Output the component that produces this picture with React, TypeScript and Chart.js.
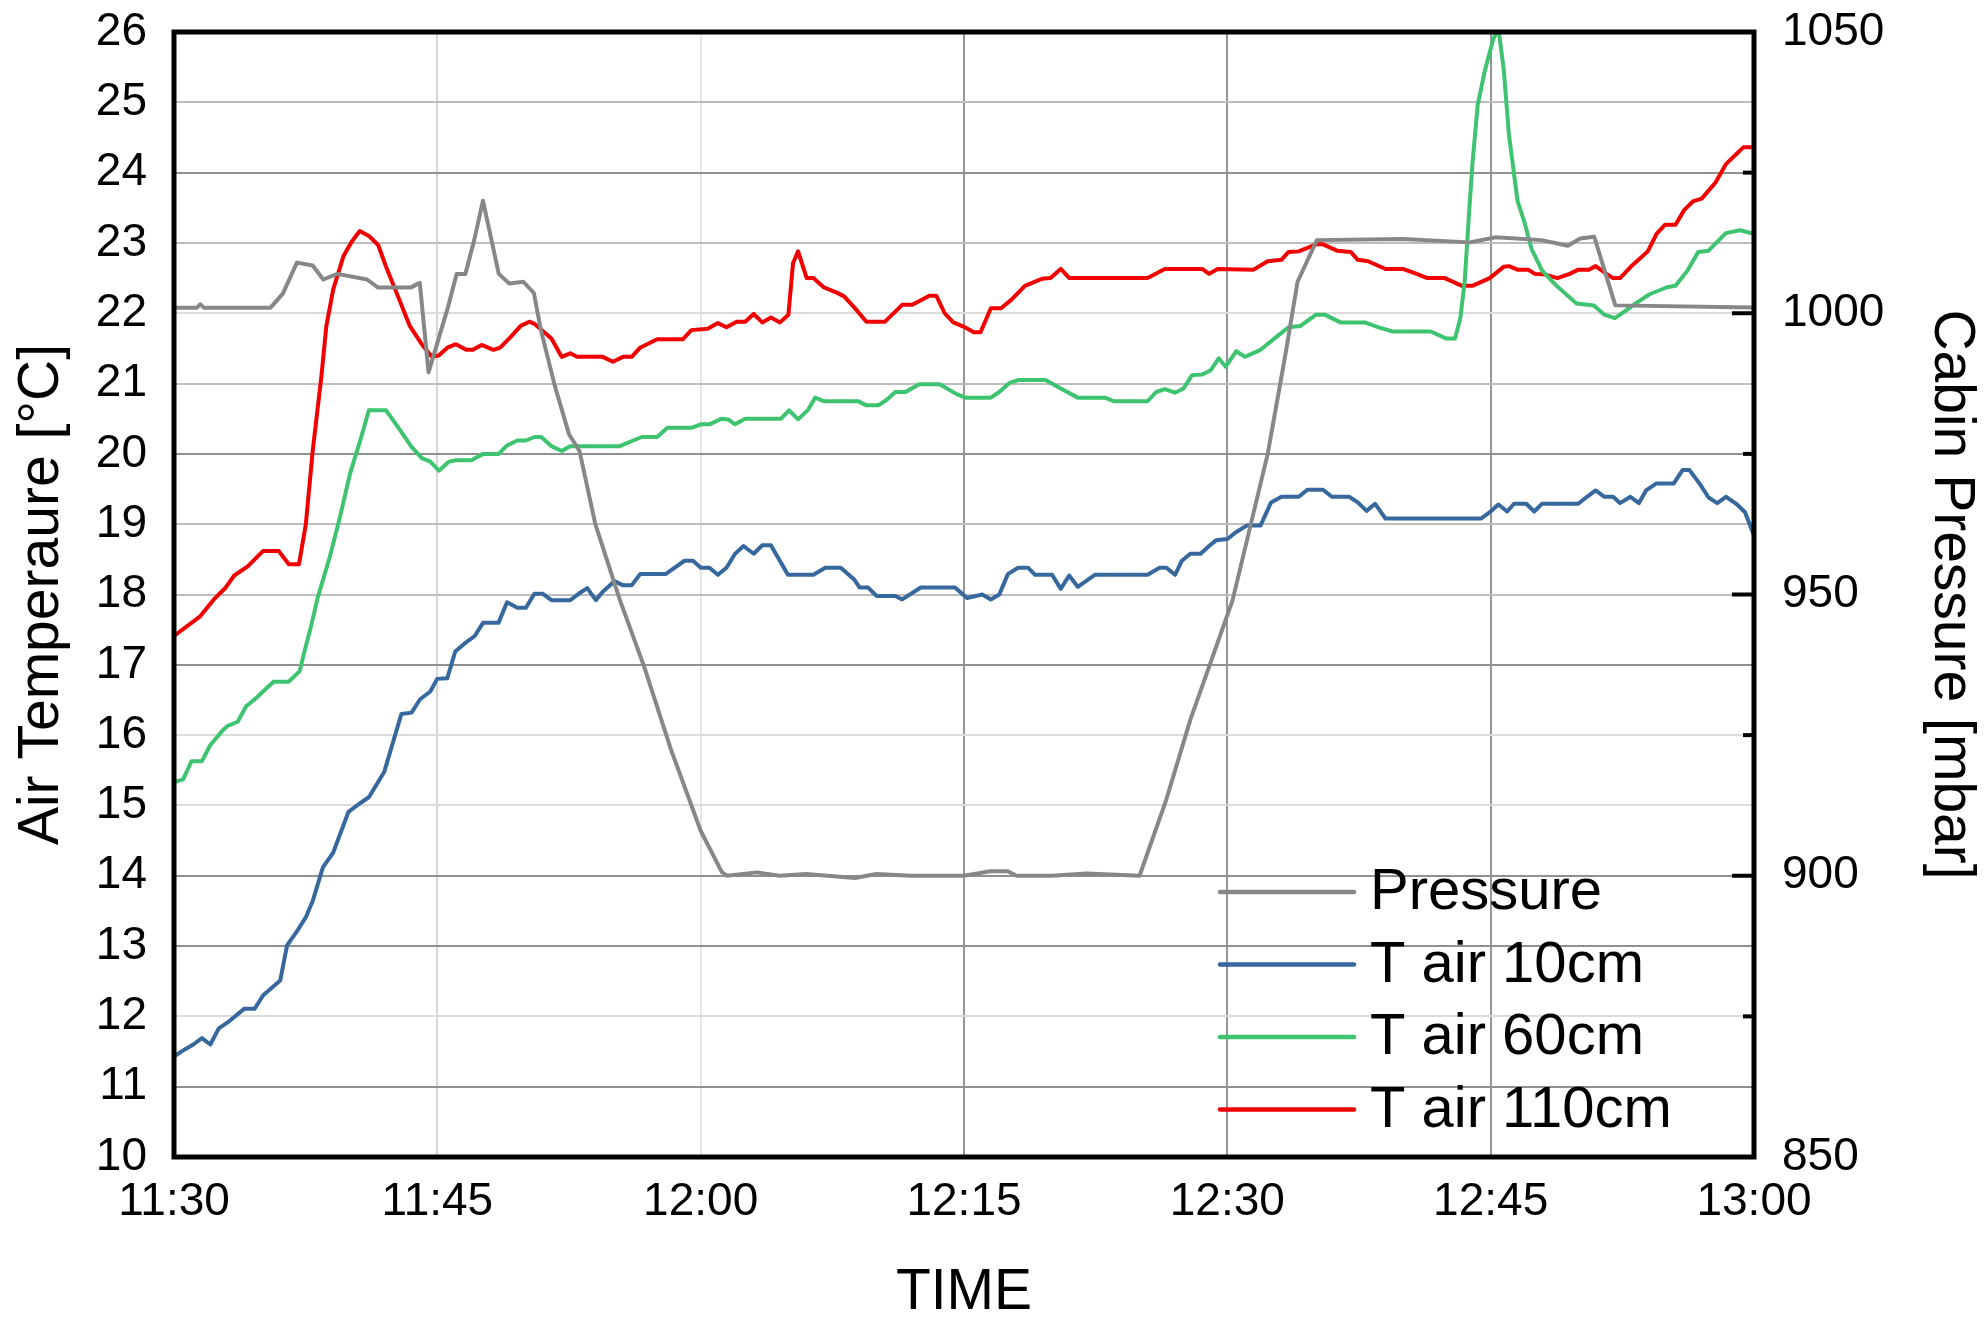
import React, { useEffect, useRef } from 'react';
import { Chart, registerables } from 'chart.js';

Chart.register(...registerables);

// ---- axis labels ----
const xTickLabels = ['11:30', '11:45', '12:00', '12:15', '12:30', '12:45', '13:00'];
const xTickStepMin = 15;
const legendLabels = ['Pressure', 'T air 10cm', 'T air 60cm', 'T air 110cm'];

// ---- Pressure [mbar] vs minutes after 11:30 ----
const pressureTime = [0, 1.3, 1.5, 1.7, 5.5, 6.2, 7.0, 7.9, 8.5, 9.3, 11.0, 11.6, 13.5, 14.0, 14.5, 15.6, 16.1, 16.6, 17.1, 17.6, 18.5, 19.1, 19.9, 20.5, 20.9, 21.7, 22.5, 23.1, 24.0, 25.4, 26.8, 28.3, 30.0, 31.2, 31.5, 33.2, 34.5, 36, 38.8, 40, 42, 45, 46.5, 47.5, 48, 50, 52, 55.0, 56.5, 57.9, 59.0, 60.3, 62.3, 63.3, 64.0, 65.1, 70, 73.8, 75.3, 77.9, 79.4, 80.1, 80.9, 82.1, 90];
const pressureMbar = [1001, 1001, 1001.6, 1001, 1001, 1003.5, 1009, 1008.5, 1006, 1007, 1006, 1004.6, 1004.6, 1005.4, 989.5, 1001, 1007, 1007, 1013, 1020, 1007, 1005.3, 1005.6, 1003.6, 997, 987, 978.5, 975.5, 962.5, 949, 937, 922.5, 908, 900.7, 900, 900.6, 900, 900.3, 899.6, 900.3, 900, 900, 900.8, 900.8, 900, 900, 900.4, 900, 913.3, 927.8, 937.5, 949, 975, 992.5, 1005.6, 1013, 1013.2, 1012.6, 1013.5, 1013, 1012, 1013.3, 1013.6, 1001.4, 1001];

// ---- T air 10cm [°C] ----
const t10Time = [0, 0.61, 1.1, 1.59, 2.07, 2.55, 3.14, 4.01, 4.6, 5.08, 6.05, 6.44, 7.03, 7.51, 7.9, 8.48, 9.07, 9.94, 10.43, 11.11, 11.98, 12.95, 13.53, 14.02, 14.6, 14.99, 15.57, 16.02, 16.54, 17.13, 17.61, 18.49, 18.97, 19.56, 20.04, 20.53, 21.01, 21.5, 22.57, 23.05, 23.54, 24.03, 24.42, 25.09, 25.58, 26.07, 26.55, 28.0, 29.08, 29.56, 30.01, 30.5, 30.98, 31.47, 31.96, 32.44, 33.02, 33.51, 34.0, 34.97, 36.42, 37.1, 37.98, 38.76, 39.05, 39.53, 40.02, 41.09, 41.48, 42.54, 44.49, 45.17, 46.04, 46.53, 47.01, 47.5, 48.08, 48.66, 49.05, 50.02, 50.51, 50.99, 51.48, 52.45, 55.46, 56.14, 56.53, 57.02, 57.41, 57.89, 58.48, 58.96, 59.35, 60.01, 60.51, 61.1, 61.89, 62.49, 63.08, 64.07, 64.56, 65.45, 65.95, 66.94, 67.43, 67.93, 68.42, 69.01, 74.45, 74.95, 75.44, 75.94, 76.33, 77.03, 77.48, 77.92, 79.99, 80.49, 80.98, 81.48, 81.97, 82.37, 82.96, 83.45, 83.85, 84.44, 85.43, 85.93, 86.32, 86.92, 87.41, 87.91, 88.4, 88.99, 89.49, 90];
const t10Val = [11.43, 11.53, 11.6, 11.69, 11.6, 11.83, 11.93, 12.11, 12.11, 12.3, 12.51, 13.01, 13.22, 13.41, 13.64, 14.12, 14.33, 14.91, 15.0, 15.12, 15.48, 16.3, 16.32, 16.51, 16.62, 16.8, 16.81, 17.19, 17.3, 17.41, 17.6, 17.6, 17.89, 17.81, 17.81, 18.01, 18.01, 17.92, 17.92, 18.01, 18.09, 17.92, 18.04, 18.19, 18.13, 18.13, 18.29, 18.29, 18.48, 18.48, 18.38, 18.38, 18.28, 18.38, 18.58, 18.69, 18.58, 18.7, 18.7, 18.28, 18.28, 18.38, 18.38, 18.21, 18.1, 18.1, 17.98, 17.98, 17.93, 18.1, 18.1, 17.95, 18.0, 17.93, 18.0, 18.29, 18.38, 18.38, 18.28, 18.28, 18.08, 18.27, 18.11, 18.28, 18.28, 18.38, 18.38, 18.28, 18.48, 18.58, 18.58, 18.69, 18.77, 18.79, 18.89, 18.98, 18.98, 19.31, 19.39, 19.39, 19.49, 19.49, 19.39, 19.39, 19.31, 19.19, 19.29, 19.08, 19.08, 19.17, 19.28, 19.18, 19.29, 19.29, 19.18, 19.29, 19.29, 19.39, 19.48, 19.39, 19.39, 19.3, 19.39, 19.3, 19.48, 19.58, 19.58, 19.77, 19.77, 19.57, 19.38, 19.3, 19.39, 19.29, 19.17, 18.84];

// ---- T air 60cm [°C] ----
const t60Time = [0, 0.52, 1.0, 1.59, 2.07, 2.75, 3.04, 3.63, 4.11, 4.6, 5.67, 6.54, 7.16, 7.41, 7.8, 8.19, 8.87, 9.45, 10.04, 10.62, 11.1, 12.08, 12.76, 13.53, 14.12, 14.6, 15.09, 15.67, 16.06, 16.93, 17.61, 18.49, 18.97, 19.56, 20.04, 20.53, 20.92, 21.5, 22.08, 22.57, 25.39, 26.16, 26.65, 27.52, 28.11, 29.47, 30.01, 30.5, 31.18, 31.57, 31.96, 32.54, 34.58, 35.03, 35.55, 36.13, 36.52, 37.01, 38.95, 39.44, 40.12, 40.6, 41.09, 41.67, 42.45, 43.61, 44.58, 45.07, 46.53, 47.01, 47.6, 48.08, 49.64, 50.51, 51.48, 53.04, 53.52, 55.46, 55.95, 56.44, 57.02, 57.5, 57.99, 58.57, 59.06, 59.51, 59.91, 60.51, 61.0, 61.89, 62.78, 63.48, 64.17, 65.06, 65.55, 66.44, 67.83, 68.62, 69.41, 71.59, 72.48, 72.97, 73.27, 73.52, 73.76, 73.96, 74.26, 74.65, 75.15, 75.44, 75.74, 76.04, 76.53, 76.93, 77.32, 77.92, 78.71, 79.89, 80.88, 81.48, 82.07, 82.66, 83.26, 84.05, 85.04, 85.53, 86.22, 86.82, 87.41, 88.4, 89.2, 90];
const t60Val = [15.33, 15.37, 15.63, 15.63, 15.86, 16.06, 16.13, 16.19, 16.41, 16.51, 16.76, 16.76, 16.91, 17.17, 17.54, 17.96, 18.53, 19.1, 19.73, 20.2, 20.62, 20.62, 20.38, 20.1, 19.94, 19.89, 19.76, 19.89, 19.91, 19.91, 20.0, 20.0, 20.12, 20.19, 20.19, 20.24, 20.24, 20.11, 20.04, 20.11, 20.11, 20.19, 20.24, 20.24, 20.37, 20.37, 20.42, 20.42, 20.5, 20.49, 20.42, 20.5, 20.5, 20.62, 20.49, 20.63, 20.8, 20.75, 20.75, 20.69, 20.69, 20.77, 20.88, 20.88, 20.99, 20.99, 20.85, 20.8, 20.8, 20.88, 21.01, 21.05, 21.05, 20.93, 20.8, 20.8, 20.75, 20.75, 20.88, 20.92, 20.87, 20.93, 21.12, 21.13, 21.19, 21.36, 21.24, 21.46, 21.38, 21.48, 21.66, 21.8, 21.82, 21.98, 21.98, 21.87, 21.87, 21.8, 21.74, 21.74, 21.64, 21.64, 21.93, 22.45, 23.39, 24.12, 24.96, 25.43, 25.9, 26.05, 25.48, 24.54, 23.6, 23.29, 22.92, 22.61, 22.4, 22.14, 22.11, 21.98, 21.93, 22.03, 22.14, 22.27, 22.37, 22.39, 22.61, 22.87, 22.89, 23.14, 23.18, 23.13];

// ---- T air 110cm [°C] ----
const t110Time = [0, 1.49, 2.27, 2.95, 3.43, 4.2, 5.08, 5.96, 6.54, 7.12, 7.51, 7.9, 8.39, 8.68, 9.07, 9.65, 10.13, 10.58, 11.1, 11.63, 12.08, 12.76, 13.43, 14.11, 14.69, 15.08, 15.57, 16.06, 16.64, 17.03, 17.52, 18.2, 18.58, 19.17, 19.75, 20.24, 20.53, 21.5, 22.08, 22.57, 22.96, 24.42, 25.0, 25.58, 26.07, 26.55, 27.52, 28.98, 29.47, 30.4, 30.98, 31.47, 32.05, 32.54, 33.02, 33.51, 34.0, 34.52, 35.0, 35.26, 35.55, 36.04, 36.42, 37.01, 37.78, 38.17, 38.76, 39.44, 40.5, 41.48, 42.06, 43.03, 43.42, 43.9, 44.39, 44.97, 45.56, 45.94, 46.53, 47.11, 47.69, 48.47, 49.44, 49.93, 50.51, 51.0, 55.46, 56.44, 58.57, 58.96, 59.45, 61.5, 62.29, 63.08, 63.48, 64.07, 65.06, 65.45, 66.25, 67.04, 67.43, 68.02, 69.01, 70.0, 70.79, 71.39, 72.38, 73.37, 73.96, 74.95, 75.74, 76.04, 76.53, 77.13, 77.52, 78.11, 78.8, 79.5, 79.99, 80.59, 80.98, 81.48, 81.97, 82.37, 83.06, 83.95, 84.45, 84.94, 85.53, 86.03, 86.52, 87.02, 87.81, 88.4, 89.39, 90];
const t110Val = [17.41, 17.69, 17.93, 18.1, 18.27, 18.4, 18.62, 18.62, 18.43, 18.43, 19.0, 20.04, 21.09, 21.82, 22.34, 22.81, 23.02, 23.17, 23.1, 22.97, 22.66, 22.24, 21.82, 21.56, 21.38, 21.4, 21.51, 21.56, 21.48, 21.48, 21.55, 21.48, 21.51, 21.66, 21.82, 21.88, 21.85, 21.64, 21.38, 21.43, 21.38, 21.38, 21.31, 21.38, 21.38, 21.51, 21.63, 21.63, 21.76, 21.78, 21.86, 21.8, 21.88, 21.88, 21.99, 21.87, 21.94, 21.87, 21.98, 22.71, 22.88, 22.5, 22.5, 22.37, 22.29, 22.24, 22.08, 21.88, 21.88, 22.12, 22.12, 22.25, 22.25, 22.0, 21.87, 21.81, 21.73, 21.73, 22.07, 22.07, 22.19, 22.39, 22.49, 22.5, 22.63, 22.5, 22.5, 22.63, 22.63, 22.56, 22.63, 22.62, 22.74, 22.76, 22.87, 22.88, 22.98, 22.98, 22.89, 22.87, 22.76, 22.74, 22.63, 22.63, 22.56, 22.5, 22.5, 22.39, 22.39, 22.5, 22.66, 22.67, 22.62, 22.62, 22.56, 22.55, 22.5, 22.56, 22.62, 22.62, 22.67, 22.58, 22.5, 22.5, 22.68, 22.88, 23.13, 23.26, 23.26, 23.47, 23.59, 23.63, 23.86, 24.12, 24.36, 24.36];

const toPoints = (t: number[], v: number[]) => t.map((x, i) => ({ x, y: v[i] }));

const FONT = "'Liberation Sans', Arial, Helvetica, sans-serif";

const yGridColor = (v: number) => {
  if ([24, 20, 17, 14, 13, 11].includes(v)) return '#909090';
  if ([22, 16, 15, 12].includes(v)) return '#dcdcdc';
  return '#bdbdbd';
};
const xGridColor = (v: number) => {
  if (v === 15) return '#d6d6d6';
  if (v === 30) return '#e6e6e6';
  return '#959595';
};

const fitV = (w: number) => (s: any) => { s.width = w; s.paddingTop = 0; s.paddingBottom = 0; };
const fitH = (h: number) => (s: any) => { s.height = h; s.paddingLeft = 0; s.paddingRight = 0; };

export default function App() {
  const ref = useRef<HTMLCanvasElement>(null);

  useEffect(() => {
    const canvas = ref.current;
    if (!canvas) return;

    const framePlugin = {
      id: 'frameAndLegend',
      afterDraw(chart: any) {
        const { ctx, chartArea: a } = chart;
        ctx.save();
        // inward ticks on the right axis
        const y1 = chart.scales.y1;
        ctx.strokeStyle = '#000';
        ctx.lineWidth = 4;
        for (let v = y1.min; v <= y1.max + 0.001; v += 25) {
          const py = y1.getPixelForValue(v);
          const len = v % 50 === 0 ? 22 : 11;
          ctx.beginPath();
          ctx.moveTo(a.right - len, py);
          ctx.lineTo(a.right, py);
          ctx.stroke();
        }
        // frame
        ctx.lineWidth = 5;
        ctx.strokeRect(a.left, a.top, a.right - a.left, a.bottom - a.top);
        // legend
        const lx0 = a.right - 534;
        const lx1 = a.right - 400;
        const tx = a.right - 384;
        const y0 = a.bottom - 265;
        const dy = 72.5;
        ctx.font = `58px ${FONT}`;
        ctx.textBaseline = 'middle';
        ctx.textAlign = 'left';
        chart.data.datasets.forEach((ds: any, i: number) => {
          const y = y0 + i * dy;
          ctx.strokeStyle = ds.borderColor;
          ctx.lineWidth = 4.5;
          ctx.lineCap = 'round';
          ctx.beginPath();
          ctx.moveTo(lx0, y);
          ctx.lineTo(lx1, y);
          ctx.stroke();
          ctx.fillStyle = '#000';
          ctx.fillText(ds.label, tx, y + 1);
        });
        ctx.restore();
      },
    };

    const chart = new Chart(canvas, {
      type: 'line',
      data: {
        datasets: [
          { label: legendLabels[0], data: toPoints(pressureTime, pressureMbar), borderColor: '#878787', yAxisID: 'y1' },
          { label: legendLabels[1], data: toPoints(t10Time, t10Val), borderColor: '#36689e', yAxisID: 'y' },
          { label: legendLabels[2], data: toPoints(t60Time, t60Val), borderColor: '#3ec470', yAxisID: 'y' },
          { label: legendLabels[3], data: toPoints(t110Time, t110Val), borderColor: '#f20000', yAxisID: 'y' },
        ],
      },
      options: {
        responsive: false,
        animation: false,
        devicePixelRatio: 1,
        layout: { padding: { top: 32, left: 0, right: 0, bottom: 0 } },
        plugins: { legend: { display: false }, tooltip: { enabled: false } },
        elements: {
          point: { radius: 0 },
          line: { tension: 0, borderWidth: 4, borderJoinStyle: 'round', borderCapStyle: 'round', fill: false },
        },
        scales: {
          x: {
            type: 'linear',
            min: 0,
            max: 90,
            afterFit: fitH(162),
            ticks: {
              stepSize: xTickStepMin,
              autoSkip: false,
              maxRotation: 0,
              padding: 18,
              color: '#000',
              font: { family: FONT, size: 46 },
              callback: (v: any) => xTickLabels[Math.round(Number(v) / xTickStepMin)] ?? '',
            },
            grid: { drawTicks: false, lineWidth: 2, color: (c: any) => xGridColor(c.tick ? c.tick.value : 0) },
            border: { display: false },
            title: { display: true, text: 'TIME', color: '#000', font: { family: FONT, size: 57, lineHeight: 1 }, padding: { top: 0, bottom: -3 } },
          },
          y: {
            position: 'left',
            min: 10,
            max: 26,
            afterFit: fitV(174),
            ticks: { stepSize: 1, padding: 27, color: '#000', font: { family: FONT, size: 46 }, callback: (v: any) => String(v) },
            grid: { drawTicks: false, lineWidth: 2, color: (c: any) => yGridColor(c.tick ? c.tick.value : 0) },
            border: { display: false },
            title: { display: true, text: 'Air Temperaure [°C]', color: '#000', font: { family: FONT, size: 57, lineHeight: 1 }, padding: { top: 14, bottom: 0 } },
          },
          y1: {
            position: 'right',
            min: 850,
            max: 1050,
            afterFit: fitV(231),
            ticks: { stepSize: 50, padding: 28, color: '#000', font: { family: FONT, size: 46 }, callback: (v: any) => String(v) },
            grid: { drawOnChartArea: false, drawTicks: false },
            border: { display: false },
            title: { display: true, text: 'Cabin Pressure [mbar]', color: '#000', font: { family: FONT, size: 57, lineHeight: 1 }, padding: { top: 6, bottom: 0 } },
          },
        },
      } as any,
      plugins: [framePlugin],
    });

    return () => chart.destroy();
  }, []);

  return (
    <div style={{ position: 'fixed', left: 0, top: 0, width: 1985, height: 1319, background: '#fff' }}>
      <canvas ref={ref} width={1985} height={1319} style={{ display: 'block', width: 1985, height: 1319 }} />
    </div>
  );
}
